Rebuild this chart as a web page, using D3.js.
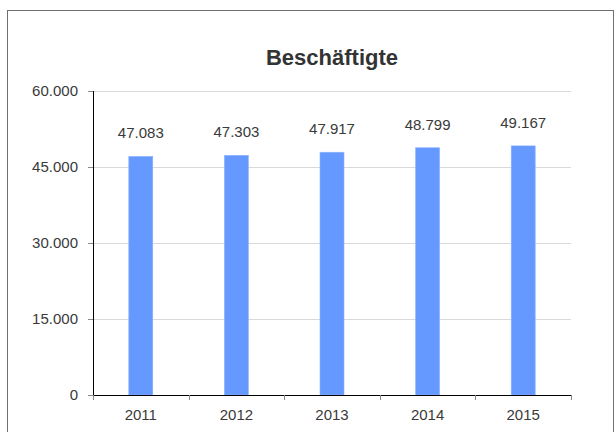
<!DOCTYPE html>
<html>
<head>
<meta charset="utf-8">
<script src="https://cdn.jsdelivr.net/npm/d3@7"></script>
<style>
  body { margin: 0; background: #fff; }
  text { font-family: "Liberation Sans", Arial, sans-serif; }
</style>
</head>
<body>
<div id="chart"></div>
<script>
// Beschäftigte per year
const years = ["2011", "2012", "2013", "2014", "2015"];
const values = [47083, 47303, 47917, 48799, 49167];
const yTicks = [0, 15000, 30000, 45000, 60000];

const width = 616, height = 432;
const margin = { top: 91, right: 45, bottom: 37, left: 93 };

const fmt = v => d3.format(",")(v).replace(/,/g, ".");

const svg = d3.select("#chart")
    .append("svg")
    .attr("width", width)
    .attr("height", height);

// outer frame
svg.append("rect")
    .attr("x", 7.5)
    .attr("y", 10.5)
    .attr("width", 606)
    .attr("height", 440)
    .attr("fill", "none")
    .attr("stroke", "#707070")
    .attr("stroke-width", 1);

const x = d3.scaleBand()
    .domain(years)
    .range([margin.left, width - margin.right]);

const y = d3.scaleLinear()
    .domain([0, 60000])
    .range([height - margin.bottom, margin.top]);

// gridlines
svg.append("g")
    .selectAll("line")
    .data(yTicks.filter(d => d > 0))
    .enter().append("line")
    .attr("x1", margin.left)
    .attr("x2", width - margin.right)
    .attr("y1", d => Math.round(y(d)) + 0.5)
    .attr("y2", d => Math.round(y(d)) + 0.5)
    .attr("stroke", "#d9d9d9");

// bars
svg.append("g")
    .selectAll("rect")
    .data(values)
    .enter().append("rect")
    .attr("x", (d, i) => x(years[i]) + x.bandwidth() / 2 - 12)
    .attr("y", d => y(d))
    .attr("width", 24)
    .attr("height", d => y(0) - y(d))
    .attr("fill", "#6699ff")
    .attr("stroke", "#8cb3ff")
    .attr("stroke-width", 0.6);

// value labels
svg.append("g")
    .selectAll("text")
    .data(values)
    .enter().append("text")
    .attr("x", (d, i) => x(years[i]) + x.bandwidth() / 2)
    .attr("y", d => y(d) - 18)
    .attr("text-anchor", "middle")
    .attr("font-size", "15px")
    .attr("fill", "#3a3a3a")
    .text(d => fmt(d));

// y axis
const yAxis = svg.append("g")
    .attr("transform", `translate(${margin.left},0)`)
    .call(d3.axisLeft(y).tickValues(yTicks).tickSize(5).tickPadding(10).tickFormat(fmt));
yAxis.select(".domain").attr("stroke", "#000").attr("d", `M0.5,${y(60000)}V${y(0)}`);
yAxis.selectAll(".tick line").attr("stroke", "#888");
yAxis.selectAll(".tick text")
    .attr("font-size", "15px")
    .attr("font-family", "Liberation Sans, Arial, sans-serif")
    .attr("fill", "#3a3a3a");

// x axis
const xAxis = svg.append("g")
    .attr("transform", `translate(0,${y(0)})`)
    .call(d3.axisBottom(x).tickSize(0).tickPadding(14));
xAxis.select(".domain").attr("stroke", "#000").attr("d", `M${margin.left},0.5H${width - margin.right}`);
xAxis.selectAll(".tick text")
    .attr("font-size", "15px")
    .attr("font-family", "Liberation Sans, Arial, sans-serif")
    .attr("fill", "#3a3a3a");

// category boundary ticks
svg.append("g")
    .selectAll("line")
    .data(years.concat(["end"]))
    .enter().append("line")
    .attr("x1", (d, i) => Math.round(i < years.length ? x(d) : x.range()[1]) + 0.5)
    .attr("x2", (d, i) => Math.round(i < years.length ? x(d) : x.range()[1]) + 0.5)
    .attr("y1", y(0))
    .attr("y2", y(0) + 5)
    .attr("stroke", "#888");

// title
svg.append("text")
    .attr("x", (margin.left + width - margin.right) / 2)
    .attr("y", 65)
    .attr("text-anchor", "middle")
    .attr("font-size", "22px")
    .attr("font-weight", "bold")
    .attr("fill", "#333")
    .text("Beschäftigte");
</script>
</body>
</html>
